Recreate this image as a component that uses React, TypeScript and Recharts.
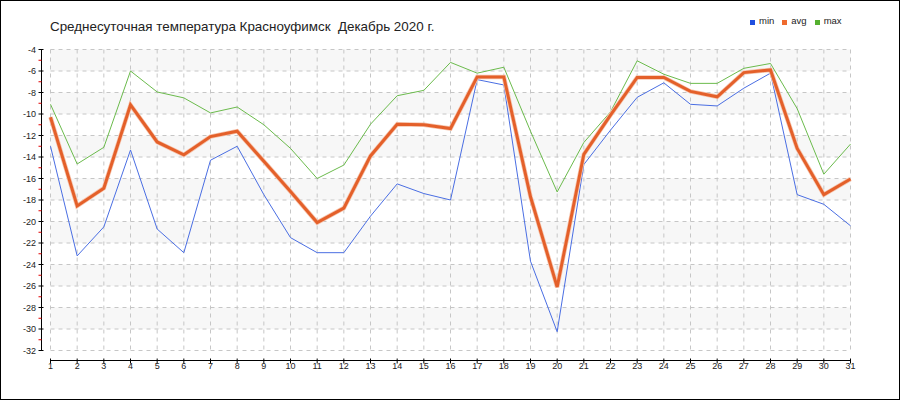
import React from 'react';
import { LineChart, Line, XAxis, YAxis, ReferenceLine, ReferenceArea } from 'recharts';

const title = 'Среднесуточная температура Красноуфимск  Декабрь 2020 г.';

const days = [1, 2, 3, 4, 5, 6, 7, 8, 9, 10, 11, 12, 13, 14, 15, 16, 17, 18, 19, 20, 21, 22, 23, 24, 25, 26, 27, 28, 29, 30, 31];

const minT = [-13.0, -23.2, -20.5, -13.35, -20.7, -22.9, -14.3, -13.0, -17.5, -21.5, -22.9, -22.9, -19.5, -16.5, -17.4, -18.0, -6.8, -7.3, -23.7, -30.25, -14.7, -11.5, -8.45, -7.1, -9.1, -9.25, -7.6, -6.2, -17.5, -18.4, -20.4];

const avgT = [-10.3, -18.55, -16.9, -9.15, -12.6, -13.8, -12.1, -11.6, -14.4, -17.2, -20.1, -18.75, -13.9, -10.95, -11.0, -11.35, -6.55, -6.55, -17.7, -26.1, -13.75, -10.1, -6.6, -6.6, -7.9, -8.4, -6.15, -5.9, -13.2, -17.5, -16.05];

const maxT = [-9.1, -14.65, -13.1, -6.0, -7.95, -8.5, -9.9, -9.35, -11.0, -13.2, -16.0, -14.75, -10.95, -8.3, -7.8, -5.2, -6.2, -5.65, -11.6, -17.25, -12.65, -9.8, -5.05, -6.3, -7.15, -7.15, -5.75, -5.3, -9.5, -15.6, -12.8];

const yTicks = [-4, -5, -6, -7, -8, -9, -10, -11, -12, -13, -14, -15, -16, -17, -18, -19, -20, -21, -22, -23, -24, -25, -26, -27, -28, -29, -30, -31, -32];
const yGridValues = [-4, -6, -8, -10, -12, -14, -16, -18, -20, -22, -24, -26, -28, -30, -32];
const stripeBands = [[-4, -6], [-8, -10], [-12, -14], [-16, -18], [-20, -22], [-24, -26], [-28, -30]];

const legendItems = [
  { name: 'min', color: '#1f4fe0' },
  { name: 'avg', color: '#ef6a2e' },
  { name: 'max', color: '#55b02f' },
];

const data = days.map((d, i) => ({ day: d, min: minT[i], avg: avgT[i], max: maxT[i] }));

const FONT = '"Liberation Sans", Arial, sans-serif';

const YTick = (props: any) => {
  const { x, y, payload } = props;
  const v = payload.value as number;
  if (v % 2 !== 0) {
    return <line x1={x - 3} x2={x} y1={y} y2={y} stroke="#e00000" strokeWidth={1} />;
  }
  return (
    <g>
      <line x1={x - 3} x2={x + 2} y1={y} y2={y} stroke="#000" strokeWidth={1} />
      <text x={x - 5.5} y={y} textAnchor="end" dominantBaseline="central" fontFamily={FONT} fontSize={9} fill="#222">
        {v}
      </text>
    </g>
  );
};

const XTick = (props: any) => {
  const { x, y, payload } = props;
  return (
    <g>
      <line x1={x} x2={x} y1={y - 2} y2={y + 3} stroke="#000" strokeWidth={1} />
      <text x={x} y={y + 8.5} textAnchor="middle" fontFamily={FONT} fontSize={9} fill="#222">
        {payload.value}
      </text>
    </g>
  );
};

export default function App() {
  return (
    <div
      style={{
        position: 'absolute',
        left: 0,
        top: 0,
        width: 900,
        height: 400,
        boxSizing: 'border-box',
        border: '1px solid #000',
        background: '#fff',
        overflow: 'hidden',
      }}
    >
      <div
        style={{
          position: 'absolute',
          left: 49,
          top: 18.5,
          fontFamily: FONT,
          fontSize: 13.4,
          lineHeight: '14px',
          color: '#222',
          whiteSpace: 'pre',
        }}
      >
        {title}
      </div>
      <div
        style={{
          position: 'absolute',
          left: 749,
          top: 14,
          display: 'flex',
          alignItems: 'center',
          fontFamily: FONT,
          fontSize: 9.5,
          lineHeight: '12px',
          color: '#222',
        }}
      >
        {legendItems.map((it) => (
          <div key={it.name} style={{ display: 'flex', alignItems: 'center', marginRight: 8 }}>
            <span style={{ display: 'inline-block', width: 5, height: 5, background: it.color, marginRight: 4, marginTop: 3 }} />
            <span>{it.name}</span>
          </div>
        ))}
      </div>
      <div style={{ position: 'absolute', left: -1, top: -1 }}>
        <LineChart
          width={900}
          height={400}
          data={data}
          margin={{ top: 49.5, right: 49.5, bottom: 9.5, left: 0.5 }}
        >
          {stripeBands.map(([a, b]) => (
            <ReferenceArea
              key={`band${a}`}
              x1={1}
              x2={31}
              y1={a}
              y2={b}
              fill="#f7f7f7"
              fillOpacity={1}
              stroke="none"
            />
          ))}
          {yGridValues.map((v) => (
            <ReferenceLine
              key={`hg${v}`}
              segment={[{ x: 1, y: v }, { x: 31, y: v }]}
              stroke="#c6c6c6"
              strokeDasharray="4 4"
            />
          ))}
          {days.map((d) => (
            <ReferenceLine
              key={`vg${d}`}
              segment={[{ x: d, y: -4 }, { x: d, y: -32 }]}
              stroke="#c6c6c6"
              strokeDasharray="4 4"
            />
          ))}
          <XAxis
            dataKey="day"
            type="number"
            domain={[1, 31]}
            ticks={days}
            interval={0}
            padding={{ left: 9, right: 0 }}
            height={30}
            tickSize={0}
            tickMargin={0}
            tickLine={false}
            axisLine={{ stroke: '#000', strokeWidth: 1, strokeDasharray: '0 9 800 30' }}
            tick={<XTick />}
          />
          <YAxis
            type="number"
            domain={[-32, -4]}
            ticks={yTicks}
            interval={0}
            width={41}
            padding={{ top: 0, bottom: 10 }}
            tickSize={0}
            tickMargin={0}
            tickLine={false}
            axisLine={{ stroke: '#000', strokeWidth: 1, strokeDasharray: '301 30' }}
            tick={<YTick />}
          />
          <Line dataKey="max" stroke="#6bbb4c" strokeWidth={1} dot={false} activeDot={false} isAnimationActive={false} />
          <Line dataKey="min" stroke="#4a6ee3" strokeWidth={1} dot={false} activeDot={false} isAnimationActive={false} />
          <Line dataKey="avg" stroke="#f6c6b0" strokeWidth={4.5} dot={false} activeDot={false} isAnimationActive={false} legendType="none" />
          <Line dataKey="avg" stroke="#e4602a" strokeWidth={3} dot={false} activeDot={false} isAnimationActive={false} />
        </LineChart>
      </div>
    </div>
  );
}
